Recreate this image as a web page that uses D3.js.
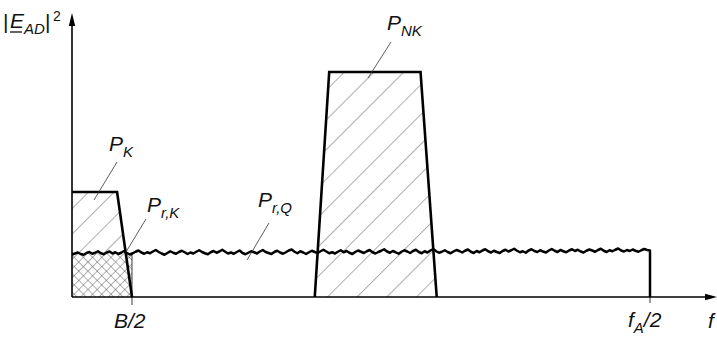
<!DOCTYPE html>
<html><head><meta charset="utf-8">
<script src="https://cdn.jsdelivr.net/npm/d3@7"></script>
<style>html,body{margin:0;padding:0;background:#fff;}svg{display:block;}</style>
</head><body>
<svg id="c" width="717" height="337"></svg>
<script>
// ---- data (frequency axis 0..100 = 0..fA/2, power in arbitrary units) ----
const pkShape  = [[0,0],[0,4.2],[7.8,4.2],[10.38,0]];          // P_K
const pnkShape = [[42.0,0],[44.5,9.0],[60.3,9.0],[63.1,0]];     // P_NK
const noiseStep = 0.5;                                          // P_r,Q noise floor samples
const noise = [
1.70,1.74,1.78,1.72,1.69,1.76,1.80,1.73,1.77,1.83,1.75,1.71,1.78,1.82,1.74,1.79,1.72,1.77,1.84,1.76,
1.70,1.75,1.81,1.86,1.78,1.73,1.79,1.75,1.82,1.88,1.80,1.74,1.69,1.76,1.83,1.77,1.73,1.80,1.85,1.79,
1.72,1.78,1.74,1.81,1.87,1.80,1.75,1.71,1.79,1.84,1.77,1.82,1.89,1.81,1.74,1.78,1.73,1.80,1.86,1.76,
1.71,1.77,1.83,1.79,1.74,1.82,1.88,1.80,1.76,1.72,1.80,1.85,1.78,1.73,1.79,1.86,1.90,1.81,1.75,1.83,
1.78,1.72,1.79,1.85,1.80,1.76,1.83,1.89,1.82,1.75,1.79,1.74,1.81,1.87,1.79,1.84,1.77,1.72,1.80,1.86,
1.81,1.76,1.83,1.88,1.79,1.74,1.80,1.85,1.91,1.82,1.77,1.84,1.79,1.73,1.81,1.87,1.82,1.76,1.84,1.89,
1.80,1.75,1.83,1.78,1.86,1.92,1.83,1.77,1.81,1.87,1.80,1.75,1.82,1.88,1.84,1.78,1.85,1.90,1.81,1.76,
1.84,1.79,1.86,1.91,1.83,1.78,1.85,1.80,1.76,1.84,1.89,1.82,1.87,1.93,1.85,1.79,1.83,1.77,1.86,1.91,
1.84,1.80,1.87,1.82,1.78,1.86,1.92,1.85,1.80,1.88,1.83,1.79,1.86,1.91,1.84,1.89,1.82,1.78,1.85,1.90,
1.86,1.81,1.88,1.93,1.85,1.80,1.87,1.83,1.89,1.94,1.86,1.82,1.88,1.84,1.90,1.85,1.81,1.87,1.92,1.88,
1.86];
const noiseLevel = 1.76;                 // floor under P_K (P_r,K region)
const tickPos = [10.38, 100];            // B/2 , fA/2
const tickLabels = [["B","","/2"],["f","A","/2"]];
const axisMax = [111.6, 11.36];

// ---- scales ----
const x = d3.scaleLinear().domain([0,100]).range([72,650]);
const y = d3.scaleLinear().domain([0,11.36]).range([297,13]);

const svg = d3.select("#c");
const defs = svg.append("defs");
function hatch(id, d, angle, w){
  const p = defs.append("pattern").attr("id",id).attr("patternUnits","userSpaceOnUse")
    .attr("width",d).attr("height",d).attr("patternTransform",`rotate(${angle})`);
  p.append("line").attr("x1",0).attr("y1",0).attr("x2",0).attr("y2",d)
    .attr("stroke","#333").attr("stroke-width",w||0.8);
}
hatch("hk",18,45);
hatch("hnk",21,45);
hatch("hx1",6.5,45,0.75);
hatch("hx2",6.5,-45,0.75);

const line = d3.line().x(d=>x(d[0])).y(d=>y(d[1]));
const poly = pts => line(pts)+"Z";

// hatch fills
svg.append("path").attr("d",poly(pkShape)).attr("fill","url(#hk)");
svg.append("path").attr("d",poly(pnkShape)).attr("fill","url(#hnk)");
const crossPts = [[0,0],[0,noiseLevel],[tickPos[0],noiseLevel],[tickPos[0],0]];
svg.append("path").attr("d",poly(crossPts)).attr("fill","#fff");
svg.append("path").attr("d",poly(crossPts)).attr("fill","url(#hx1)");
svg.append("path").attr("d",poly(crossPts)).attr("fill","url(#hx2)");

// thin vertical at B/2 + tick below
svg.append("line").attr("x1",x(tickPos[0])).attr("x2",x(tickPos[0]))
  .attr("y1",y(noiseLevel)).attr("y2",305).attr("stroke","#222").attr("stroke-width",0.9);
svg.append("line").attr("x1",x(tickPos[1])).attr("x2",x(tickPos[1]))
  .attr("y1",y(0)).attr("y2",303).attr("stroke","#222").attr("stroke-width",0.9);

// noise floor line
const noisePts = noise.map((v,i)=>[i*noiseStep,v]).concat([[100,0]]);
svg.append("path").attr("d",line(noisePts)).attr("fill","none")
  .attr("stroke","#000").attr("stroke-width",2.5).attr("stroke-linejoin","round");

// shape outlines (open at bottom)
[pkShape.slice(1), pnkShape].forEach(s=>{
  svg.append("path").attr("d",line(s)).attr("fill","none")
    .attr("stroke","#000").attr("stroke-width",2.6).attr("stroke-linejoin","miter");
});

// axes
svg.append("line").attr("x1",x(0)).attr("x2",x(axisMax[0])-6).attr("y1",y(0)).attr("y2",y(0))
  .attr("stroke","#000").attr("stroke-width",1.6);
svg.append("line").attr("x1",x(0)).attr("x2",x(0)).attr("y1",y(0)).attr("y2",y(axisMax[1])+6)
  .attr("stroke","#000").attr("stroke-width",1.6);
const ax = x(axisMax[0]), ay = y(axisMax[1]);
svg.append("path").attr("d",`M${ax},${y(0)}L${ax-12},${y(0)-3.2}L${ax-12},${y(0)+3.2}Z`).attr("fill","#000");
svg.append("path").attr("d",`M${x(0)},${ay}L${x(0)-3.2},${ay+13}L${x(0)+3.2},${ay+13}Z`).attr("fill","#000");

// text helpers
const F = "'Liberation Sans', Arial, sans-serif";
function label(x0, base, main, sub, tail, size){
  const t = svg.append("text").attr("x",x0).attr("y",base)
    .attr("font-family",F).attr("font-style","italic").attr("font-size",size||21).attr("fill","#111");
  t.append("tspan").text(main);
  if(sub) t.append("tspan").attr("dy",6).attr("font-size",15).text(sub);
  if(tail) t.append("tspan").attr("dy",sub?-6:0).text(tail);
  return t;
}
function leader(x1,y1,x2,y2){
  svg.append("line").attr("x1",x1).attr("y1",y1).attr("x2",x2).attr("y2",y2)
    .attr("stroke","#333").attr("stroke-width",0.8);
}

// y label |E_AD|^2
svg.append("text").attr("x",3).attr("y",29).attr("font-family",F).attr("font-size",21).attr("fill","#111").text("|");
label(10,28,"E","AD","",21);
svg.append("line").attr("x1",10).attr("x2",22).attr("y1",32).attr("y2",32).attr("stroke","#111").attr("stroke-width",1.3);
svg.append("text").attr("x",45).attr("y",29).attr("font-family",F).attr("font-size",21).attr("fill","#111").text("|");
svg.append("text").attr("x",53).attr("y",21).attr("font-family",F).attr("font-size",14).attr("fill","#111").text("2");

// series labels
label(109,151,"P","K");
leader(117,162,94,200);
label(147,212,"P","r,K");
leader(146,219,126,252);
label(258,207,"P","r,Q");
leader(269,223,247,260);
label(387,30,"P","NK");
leader(391,42,368,78);

// tick labels
label(x(tickPos[0])-18,328,tickLabels[0][0],tickLabels[0][1],tickLabels[0][2]);
label(x(tickPos[1])-22,327,tickLabels[1][0],tickLabels[1][1],tickLabels[1][2]);
label(708,328,"f");
</script>
</body></html>
